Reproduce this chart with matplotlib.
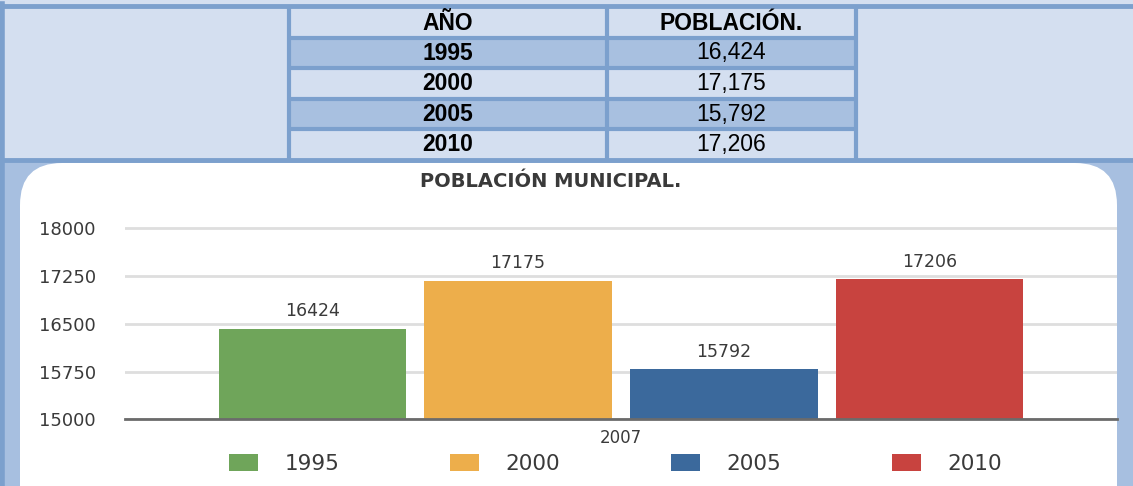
import matplotlib
matplotlib.use("Agg")
import matplotlib.pyplot as plt
from matplotlib.patches import Rectangle, FancyBboxPatch

# datos
anios = [1995, 2000, 2005, 2010]
poblacion = [16424, 17175, 15792, 17206]
categoria = "2007"
colores = ["#6fa55a", "#edae4b", "#3b699c", "#c8433f"]
yticks = [15000, 15750, 16500, 17250, 18000]

W, H = 1133, 486
fig = plt.figure(figsize=(W / 100, H / 100), dpi=100)
fig.patch.set_facecolor("#a7bfe0")

# capa de fondo en pixeles (y hacia abajo)
bg = fig.add_axes([0, 0, 1, 1], zorder=0)
bg.set_xlim(0, W)
bg.set_ylim(H, 0)
bg.axis("off")

# ---- tabla superior ----
claro = "#d4dff0"
oscuro = "#a8c0e0"
borde = "#7ca0cd"
bg.add_patch(Rectangle((0, 0), W, 161, facecolor=claro, edgecolor="none"))

col_x = [289, 607, 856]
row_y = [6, 38, 68, 99, 129, 160]
for i in range(5):
    fc = oscuro if i % 2 == 1 else claro
    bg.add_patch(Rectangle((col_x[0], row_y[i]), col_x[2] - col_x[0], row_y[i + 1] - row_y[i],
                           facecolor=fc, edgecolor="none"))
# lineas de la tabla
for y in row_y:
    if y in (row_y[0], row_y[-1]):
        bg.plot([0, W], [y, y], color=borde, lw=3.5, solid_capstyle="butt")
    else:
        bg.plot([col_x[0], col_x[2]], [y, y], color=borde, lw=3, solid_capstyle="butt")
for x in col_x:
    bg.plot([x, x], [row_y[0], row_y[-1]], color=borde, lw=3, solid_capstyle="butt")
bg.plot([2, 2], [4, H], color=borde, lw=4)

tfont = dict(family="Liberation Sans", fontsize=16.5, color="black", ha="center", va="center")
cx1 = (col_x[0] + col_x[1]) / 2
cx2 = (col_x[1] + col_x[2]) / 2
bg.text(cx1, 23, "AÑO", fontweight="bold", **tfont)
bg.text(cx2, 23, "POBLACIÓN.", fontweight="bold", **tfont)
for i, (a, p) in enumerate(zip(anios, poblacion)):
    yc = (row_y[i + 1] + row_y[i + 2]) / 2
    bg.text(cx1, yc, str(a), fontweight="bold", **tfont)
    bg.text(cx2, yc, f"{p:,}", **tfont)

# ---- panel blanco redondeado ----
bg.add_patch(FancyBboxPatch((20, 163), 1097, 400,
                            boxstyle="round,pad=0,rounding_size=42",
                            facecolor="white", edgecolor="none"))
bg.text(551, 181, "POBLACIÓN MUNICIPAL.", family="DejaVu Sans", fontweight="bold",
        fontsize=14, color="#3a3a3a", ha="center", va="center")

# ---- grafico de barras ----
y0, y1 = 15000, 18300
px_per = 191.0 / 3000
top_px = 419.3 - (y1 - y0) * px_per
ax = fig.add_axes([125 / W, (H - 419.3) / H, (1117 - 125) / W, (419.3 - top_px) / H], zorder=1)
ax.set_facecolor("none")
ax.set_ylim(y0, y1)
ax.set_xlim(-0.91, 3.91)

handles = []
for i, (a, p, c) in enumerate(zip(anios, poblacion, colores)):
    b = ax.bar(i, p, width=0.91, color=c, label=str(a), zorder=2)
    ax.bar_label(b, padding=6, fontsize=12.5, color="#3a3a3a", family="DejaVu Sans")
    handles.append(b)

ax.set_yticks(yticks)
ax.set_yticklabels([str(t) for t in yticks])
ax.set_xticks([1.5])
ax.set_xticklabels([categoria])
ax.tick_params(axis="y", length=0, pad=21, labelsize=13, labelcolor="#3a3a3a")
ax.tick_params(axis="x", length=0, pad=7, labelsize=12, labelcolor="#3a3a3a")
ax.yaxis.grid(True, color="#dedede", lw=2)
ax.set_axisbelow(True)
for s in ["top", "right", "left"]:
    ax.spines[s].set_visible(False)
ax.spines["bottom"].set_color("#6b6b6b")
ax.spines["bottom"].set_linewidth(2)

fig.legend(handles=handles, labels=[str(a) for a in anios], loc="center",
           bbox_to_anchor=(615.5 / W, 1 - 464 / H), ncol=4, frameon=False,
           fontsize=15.5, handlelength=1.35, handleheight=0.84, handletextpad=1.2,
           columnspacing=5.17, labelcolor="#3a3a3a")

fig.savefig("out.png", dpi=100)
